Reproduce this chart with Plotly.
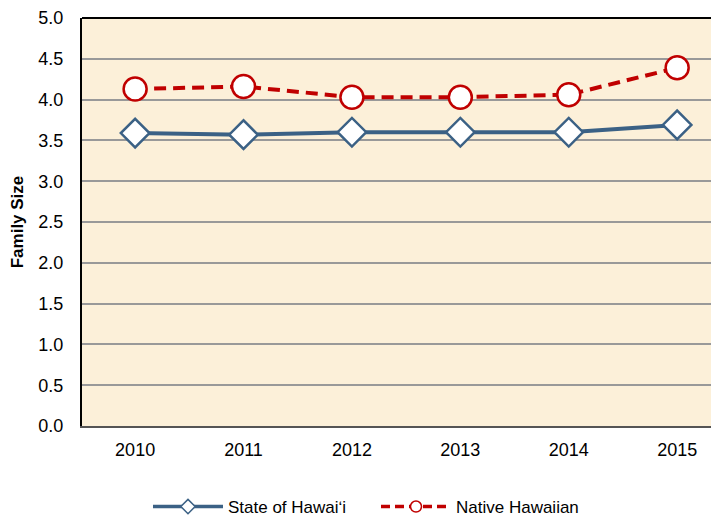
import plotly.graph_objects as go

years = ["2010", "2011", "2012", "2013", "2014", "2015"]
state_hawaii = [3.59, 3.57, 3.60, 3.60, 3.60, 3.69]
native_hawaiian = [4.13, 4.16, 4.03, 4.03, 4.06, 4.39]
y_ticks = [0, 0.5, 1.0, 1.5, 2.0, 2.5, 3.0, 3.5, 4.0, 4.5, 5.0]

BLUE = "#3B6185"
RED = "#C00000"

fig = go.Figure()
fig.add_trace(go.Scatter(
    x=years, y=state_hawaii, name="State of Hawaiʻi", mode="lines+markers",
    line=dict(color=BLUE, width=4), showlegend=False, legendgroup="s",
    marker=dict(symbol="diamond", size=22, color="white", line=dict(color=BLUE, width=2.5)),
))
fig.add_trace(go.Scatter(
    x=years, y=native_hawaiian, name="Native Hawaiian", mode="lines+markers",
    line=dict(color=RED, width=4, dash="12px,7px"), showlegend=False, legendgroup="n",
    marker=dict(symbol="circle", size=23, color="white", line=dict(color=RED, width=2.5)),
))
# legend entries with the small legend symbols
fig.add_trace(go.Scatter(
    x=[None], y=[None], name="State of Hawaiʻi", mode="lines+markers", legendgroup="s",
    line=dict(color=BLUE, width=3.5),
    marker=dict(symbol="diamond", size=11, color="white", line=dict(color=BLUE, width=1.5)),
))
fig.add_trace(go.Scatter(
    x=[None], y=[None], name="Native Hawaiian", mode="lines+markers", legendgroup="n",
    line=dict(color=RED, width=3.5, dash="9px,5px"),
    marker=dict(symbol="circle", size=11, color="white", line=dict(color=RED, width=1.5)),
))

# page body has an 8px margin, so layout offsets are shifted by 8px
fig.update_layout(
    width=719, height=517,
    margin=dict(l=74, r=8, t=10, b=99, autoexpand=False),
    paper_bgcolor="white", plot_bgcolor="#FCF0D9",
    font=dict(family="Liberation Sans, Arial, sans-serif", size=17, color="black"),
    showlegend=True,
    legend=dict(orientation="h", x=0.1036, xanchor="left", y=-0.1985, yanchor="middle",
                font=dict(size=17), itemwidth=70, entrywidth=143),
    xaxis=dict(type="category", range=[-0.49, 5.386], showgrid=False,
               showline=True, linecolor="#555", linewidth=2, ticks="",
               tickfont=dict(size=18), ticklabelstandoff=6, fixedrange=True, automargin=False),
    yaxis=dict(range=[0, 5.0], tickvals=y_ticks, ticktext=[f"{v:.1f}" for v in y_ticks],
               showgrid=True, gridcolor="#999", gridwidth=2,
               showline=True, linecolor="black", linewidth=2, mirror=False, ticks="",
               ticklabelstandoff=13,
               title=dict(text="<b>Family Size</b>", font=dict(size=17), standoff=10),
               tickfont=dict(size=18), zeroline=False, automargin=False),
)
fig.add_shape(type="line", xref="paper", yref="paper", x0=0, x1=1, y0=1, y1=1,
              line=dict(color="black", width=2))
fig.write_html("out.html")
